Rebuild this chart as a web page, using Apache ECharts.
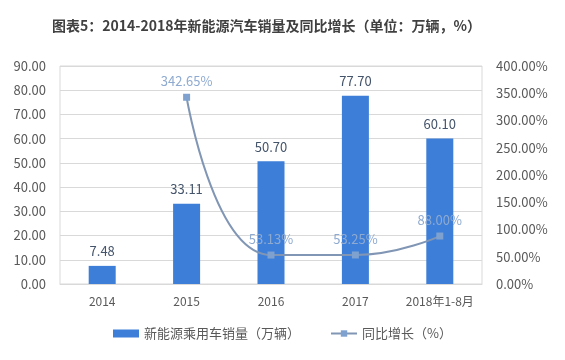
<!DOCTYPE html>
<html><head><meta charset="utf-8">
<script src="https://cdn.jsdelivr.net/npm/echarts@6/dist/echarts.min.js"></script>
<style>html,body{margin:0;padding:0;background:#fff}#c{width:565px;height:360px}</style>
</head><body><div id="c"></div>
<script>
var categories = ['2014', '2015', '2016', '2017', '2018年1-8月'];
var sales = [7.48, 33.11, 50.70, 77.70, 60.10];
var growth = [null, 342.65, 53.13, 53.25, 88.00];
var salesName = '新能源乘用车销量（万辆）';
var growthName = '同比增长（%）';
var titleText = '图表5：2014-2018年新能源汽车销量及同比增长（单位：万辆，%）';

var chart = echarts.init(document.getElementById('c'));
var font = '"Microsoft YaHei","Noto Sans CJK SC",sans-serif';
chart.setOption({
  animation: false,
  textStyle: {fontFamily: font},
  title: {text: titleText, left: 47, top: 14,
    textStyle: {fontSize: 14, fontWeight: 'bold', color: '#404040', fontFamily: font}},
  grid: {left: 60, right: 83, top: 66, bottom: 76, show: true, borderColor: '#d9d9d9', borderWidth: 1},
  legend: {bottom: 15, left: 'center', itemGap: 30, itemWidth: 26, itemHeight: 8,
    textStyle: {fontSize: 13, color: '#595959'},
    data: [{name: salesName, icon: 'rect'}, {name: growthName}]},
  xAxis: {type: 'category', data: categories,
    axisLine: {lineStyle: {color: '#d9d9d9'}}, axisTick: {show: false},
    axisLabel: {color: '#595959', fontSize: 12, margin: 11, interval: 0}},
  yAxis: [
    {type: 'value', min: 0, max: 90, interval: 10,
      axisLabel: {color: '#595959', fontSize: 13, margin: 14, formatter: function(v){return v.toFixed(2);}},
      splitLine: {lineStyle: {color: '#d9d9d9'}}, axisLine: {show: false}, axisTick: {show: false}},
    {type: 'value', min: 0, max: 400, interval: 50,
      axisLabel: {color: '#595959', fontSize: 13, margin: 14, formatter: function(v){return v.toFixed(2) + '%';}},
      splitLine: {show: false}, axisLine: {show: false}, axisTick: {show: false}}
  ],
  series: [
    {name: salesName, type: 'bar', data: sales, barWidth: 27,
      itemStyle: {color: '#3d7ed8'},
      label: {show: true, position: 'top', distance: 8, color: '#44546a', fontSize: 13,
        formatter: function(p){return p.value.toFixed(2);}}},
    {name: growthName, type: 'line', yAxisIndex: 1, data: growth, smooth: 0.5,
      symbol: 'rect', symbolSize: 7, connectNulls: false,
      lineStyle: {color: '#8096b4', width: 2},
      itemStyle: {color: '#7ea1d0'},
      label: {show: true, position: 'top', distance: 6, color: '#8eaad0', fontSize: 13,
        formatter: function(p){return p.value.toFixed(2) + '%';}}}
  ]
});
</script></body></html>
